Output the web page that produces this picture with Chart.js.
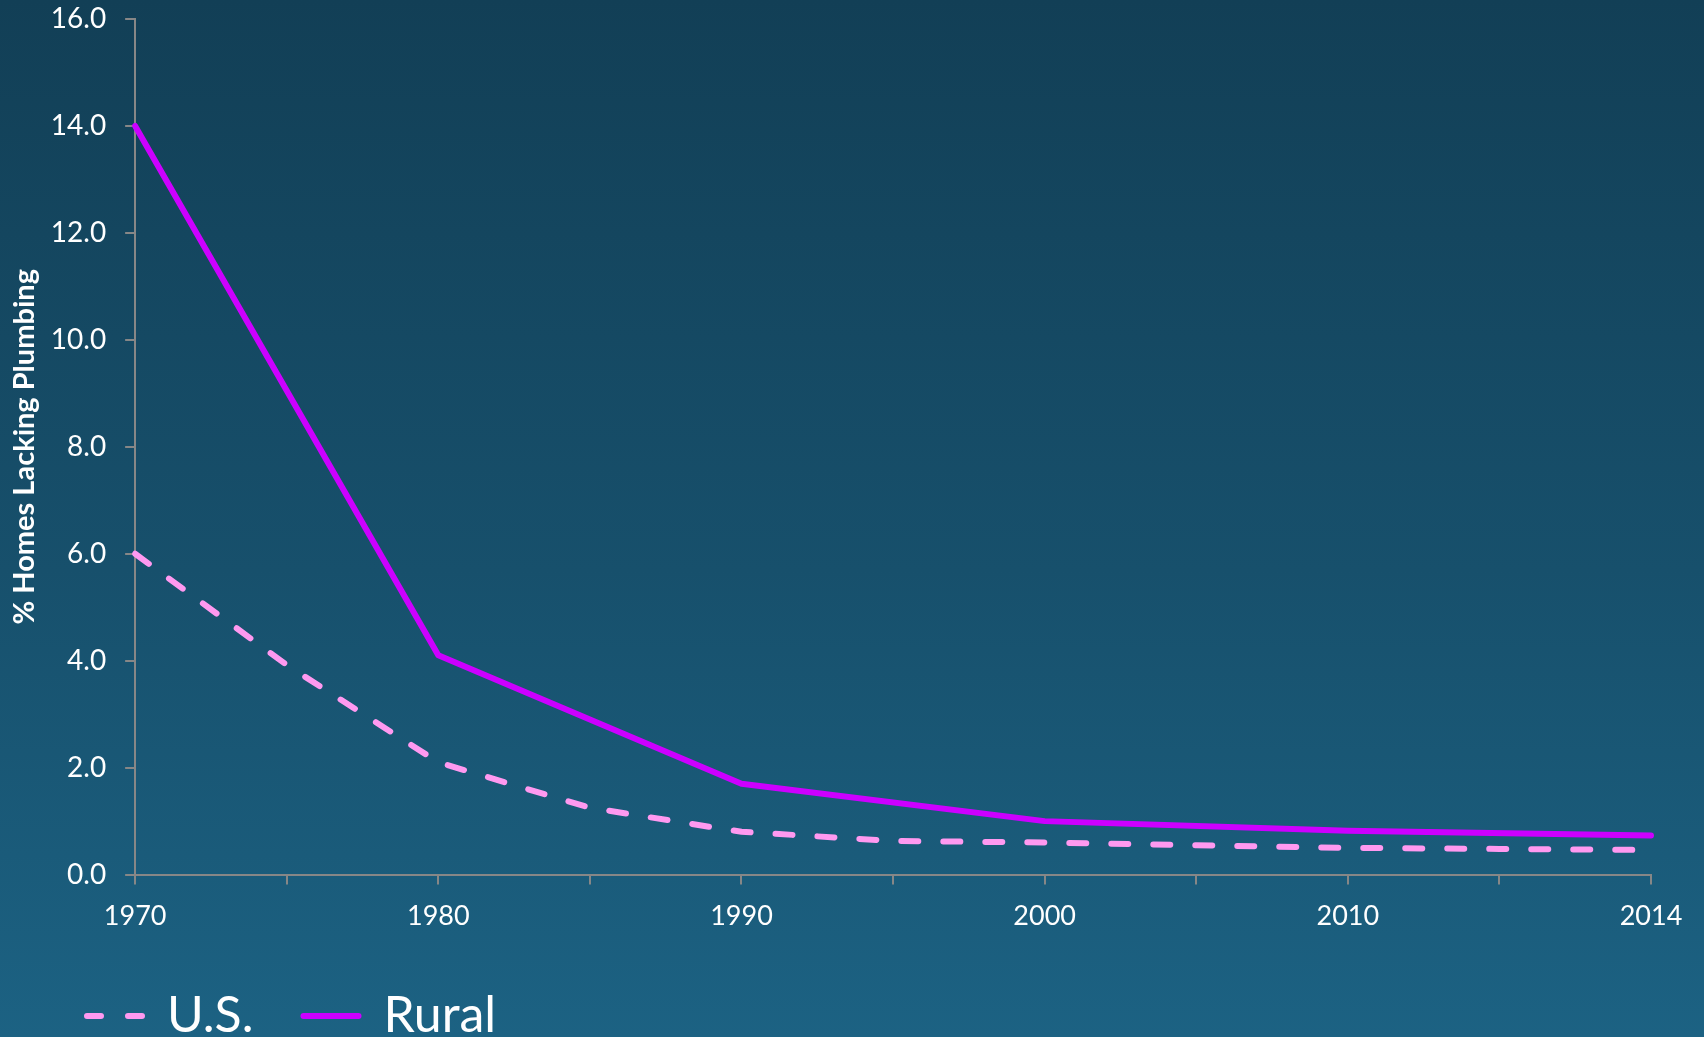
<!DOCTYPE html>
<html lang="en">
  <head>
    <meta charset="utf-8">
    <title>Homes lacking plumbing</title>
    <script src="https://cdn.jsdelivr.net/npm/chart.js@4.4.0/dist/chart.umd.min.js"></script>
    <style>
      html, body { margin: 0; padding: 0; }
      body {
        width: 1704px;
        height: 1037px;
        overflow: hidden;
        background: linear-gradient(to bottom, #123f56 0%, #17506c 55%, #1c6283 100%);
      }
    </style>
  </head>
  <body>
    <canvas id="chart" width="1704" height="1037"></canvas>

    <script type="text/javascript">

    // categories (half-decade steps, last step is 2010 -> 2012 -> 2014)
    var years = ['1970', '1975', '1980', '1985', '1990', '1995', '2000', '2005', '2010', '2012', '2014']
    var shownYears = ['1970', '1980', '1990', '2000', '2010', '2014']

    // % homes lacking plumbing
    var usData    = [6.0, 3.92, 2.1, 1.25, 0.8, 0.63, 0.6, 0.55, 0.5, 0.48, 0.46]
    var ruralData = [14.0, null, 4.1, null, 1.7, null, 1.0, null, 0.82, null, 0.73]

    var axisColor = '#878787'
    var textColor = '#ffffff'

    // nudge the legend to where the original sits (left edge / vertical)
    var legendShift = {
      id: 'legendShift',
      afterLayout: function(chart) {
        chart.legend.left += 30
        chart.legend.top -= 6
      }
    }

    var ctx = document.getElementById('chart').getContext('2d');
    var chart = new Chart(ctx, {
        type: 'line',
        data: {
            labels: years,
            datasets: [{
                label: 'U.S.',
                data: usData,
                borderColor: '#ff99f0',
                backgroundColor: '#ff99f0',
                borderWidth: 6,
                borderDash: [17, 25],
                borderCapStyle: 'round',
                pointRadius: 0,
                tension: 0,
                spanGaps: true
            }, {
                label: 'Rural',
                data: ruralData,
                borderColor: '#cc00ff',
                backgroundColor: '#cc00ff',
                borderWidth: 6,
                borderCapStyle: 'round',
                borderJoinStyle: 'round',
                pointRadius: 0,
                tension: 0,
                spanGaps: true
            }]
        },
        plugins: [legendShift],
        options: {
          responsive: false,
          animation: false,
          layout: {
            padding: { top: 0, right: 53, bottom: -20, left: 7 }
          },
          plugins: {
            tooltip: { enabled: false },
            legend: {
              position: 'bottom',
              align: 'start',
              labels: {
                color: textColor,
                font: { family: 'Lato', size: 50 },
                usePointStyle: true,
                pointStyle: 'line',
                pointStyleWidth: 55,
                boxHeight: 6,
                padding: 50,
                generateLabels: function(chart) {
                  var items = Chart.defaults.plugins.legend.labels.generateLabels(chart)
                  items.forEach(function(item) {
                    var ds = chart.data.datasets[item.datasetIndex]
                    item.lineDash = ds.borderDash ? [14, 27] : []
                    item.lineCap = 'round'
                    item.lineWidth = 6
                    item.strokeStyle = ds.borderColor
                  })
                  return items
                }
              }
            }
          },
          scales: {
            x: {
              offset: false,
              border: { color: axisColor, width: 2 },
              grid: {
                display: true,
                drawOnChartArea: false,
                color: axisColor,
                lineWidth: 2,
                tickLength: 10
              },
              ticks: {
                color: textColor,
                font: { family: 'Lato', size: 27 },
                autoSkip: false,
                maxRotation: 0,
                padding: 15,
                callback: function(value, index) {
                  var label = years[index]
                  return shownYears.indexOf(label) >= 0 ? label : ''
                }
              }
            },
            y: {
              min: 0,
              max: 16,
              border: { color: axisColor, width: 2 },
              grid: {
                display: true,
                drawOnChartArea: false,
                color: axisColor,
                lineWidth: 2,
                tickLength: 10
              },
              ticks: {
                stepSize: 2,
                color: textColor,
                font: { family: 'Lato', size: 28, lineHeight: 0 },
                padding: 19,
                callback: function(value) { return value.toFixed(1) }
              },
              title: {
                display: true,
                text: '% Homes Lacking Plumbing',
                color: textColor,
                font: { family: 'Lato', size: 29, weight: 'bold' },
                padding: { top: 0, bottom: -10 }
              }
            }
          }
        }
    });
    </script>
  </body>
</html>
